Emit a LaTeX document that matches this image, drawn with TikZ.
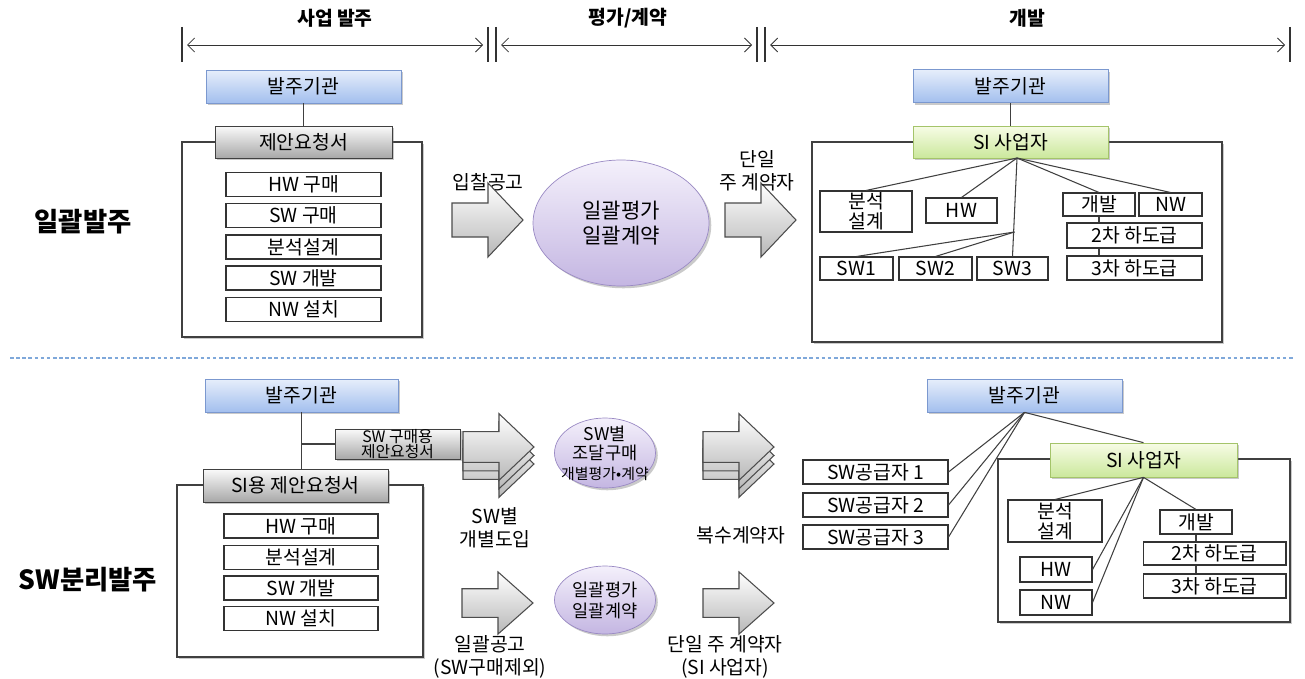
\documentclass[tikz,border=0pt]{standalone}
\usepackage{fontspec}
\setmainfont{Noto Sans CJK KR}
\usetikzlibrary{arrows.meta,shapes.geometric,shadows}

\definecolor{orgtop}{HTML}{E6EEFB}
\definecolor{orgbot}{HTML}{A3BFEE}
\definecolor{orgline}{HTML}{7B98CF}
\definecolor{rfptop}{HTML}{FAFAFA}
\definecolor{rfpbot}{HTML}{A8A8A8}
\definecolor{sitop}{HTML}{F7FCE6}
\definecolor{sibot}{HTML}{CBE89C}
\definecolor{siline}{HTML}{A4C46A}
\definecolor{elltop}{HTML}{F4F0FB}
\definecolor{ellbot}{HTML}{C4B6E2}
\definecolor{ellline}{HTML}{9A8AC4}
\definecolor{sepline}{HTML}{7FA8DA}

\tikzset{
  shad/.style={drop shadow={shadow xshift=1.3pt,shadow yshift=-1.3pt,opacity=.35,fill=black!60}},
  hdr/.style={font=\bfseries\fontsize{11}{13}\selectfont},
  side/.style={font=\bfseries\fontsize{15}{17}\selectfont},
  bar/.style={draw=black!80,line width=.6pt},
  span/.style={draw=black!80,line width=.5pt,{Straight Barb[length=4pt,width=8pt]}-{Straight Barb[length=4pt,width=8pt]}},
  frame/.style={draw=black!75,line width=.8pt,fill=white,shad},
  link/.style={draw=black!75,line width=.6pt},
  orgbox/.style={draw=orgline,top color=orgtop,bottom color=orgbot,minimum width=3.9cm,minimum height=.66cm,inner sep=0pt,font=\fontsize{11}{13}\selectfont,shad},
  rfpbox/.style={draw=black!75,top color=rfptop,bottom color=rfpbot,minimum height=.64cm,inner sep=0pt,font=\fontsize{11}{13}\selectfont,align=center,shad},
  sibox/.style={draw=siline,top color=sitop,bottom color=sibot,minimum height=.64cm,inner sep=0pt,font=\fontsize{11}{13}\selectfont,shad},
  itembox/.style={draw=black!80,fill=white,line width=.6pt,inner sep=0pt,minimum height=.48cm,font=\fontsize{11}{11.5}\selectfont,align=center},
  ellbox/.style={ellipse,draw=ellline,top color=elltop,bottom color=ellbot,inner sep=0pt,shad},
  lbl/.style={font=\fontsize{11}{13}\selectfont,align=center},
  arrowbody/.style={draw=black!70,line width=.6pt,top color=white,bottom color=black!28,line join=miter},
  blkarrow/.pic={
    \draw[arrowbody] (0,-17) -- (36,-17) -- (36,-37) -- (71,0) -- (36,37) -- (36,17) -- (0,17) -- cycle;
  }
}

\begin{document}
\begin{tikzpicture}[x=0.02cm,y=-0.02cm]
\useasboundingbox (0,0) rectangle (1305,679);

% 단계 머리말
\node[hdr] (hdr1) at (335,18) {사업 발주};
\node[hdr] (hdr2) at (628,18) {평가/계약};
\node[hdr] (hdr3) at (1027,18) {개발};
\draw[bar] (182,27) -- (182,62) (488,27) -- (488,62) (496,27) -- (496,62)
  (757,27) -- (757,62) (765,27) -- (765,62) (1290,27) -- (1290,62);
\coordinate (p1) at (187,45); \coordinate (p2) at (483,45);
\coordinate (p3) at (501,45); \coordinate (p4) at (752,45);
\coordinate (p5) at (770,45); \coordinate (p6) at (1285,45);
\draw[span] (p1) -- (p2);
\draw[span] (p3) -- (p4);
\draw[span] (p5) -- (p6);

% 일괄발주
\node[side] (side1) at (83,222) {일괄발주};
\draw[frame] (182,142) rectangle (422,337);
\node[orgbox] (org1) at (303.5,86.5) {발주기관};
\node[rfpbox,minimum width=3.54cm] (rfp1) at (303.5,142) {제안요청서};
\draw[link] (org1) -- (rfp1);
\node[itembox,minimum width=3.1cm] (it11) at (303.5,184.5) {HW 구매};
\node[itembox,minimum width=3.1cm] (it12) at (303.5,215.5) {SW 구매};
\node[itembox,minimum width=3.1cm] (it13) at (303.5,247) {분석설계};
\node[itembox,minimum width=3.1cm] (it14) at (303.5,278) {SW 개발};
\node[itembox,minimum width=3.1cm] (it15) at (303.5,309.5) {NW 설치};

\node[lbl] (bid1) at (488,182) {입찰공고};
\pic at (452,220) {blkarrow};
\node[ellbox,minimum width=3.52cm,minimum height=2.52cm] (ell1) at (621,223) {};
\node[lbl,font=\fontsize{12}{14}\selectfont] (ell1t) at (ell1) {일괄평가\\일괄계약};
\pic at (725,220) {blkarrow};
\node[lbl] (main1) at (757,171) {단일\\주 계약자};

\draw[frame] (812,142) rectangle (1222,342);
\node[orgbox] (org2) at (1010.5,86) {발주기관};
\node[sibox,minimum width=3.9cm] (si1) at (1010.5,142) {SI 사업자};
\draw[link] (org2) -- (si1);
\node[itembox,minimum width=1.84cm,minimum height=.82cm] (ana1) at (866,211.5) {분석\\설계};
\node[itembox,minimum width=1.42cm,minimum height=.5cm] (hw1) at (961.5,210.5) {HW};
\node[itembox,minimum width=1.44cm,minimum height=.46cm] (dev1) at (1099,204.5) {개발};
\node[itembox,minimum width=1.26cm,minimum height=.46cm] (nw1) at (1170.5,204.5) {NW};
\node[itembox,minimum width=2.7cm,minimum height=.5cm] (sub21) at (1134.5,235.5) {2차 하도급};
\node[itembox,minimum width=2.7cm] (sub31) at (1134.5,268) {3차 하도급};
\node[itembox,minimum width=1.46cm,minimum height=.46cm] (sw1) at (856.5,268.5) {SW1};
\node[itembox,minimum width=1.46cm,minimum height=.46cm] (sw2) at (935.5,268.5) {SW2};
\node[itembox,minimum width=1.42cm,minimum height=.46cm] (sw3) at (1012.5,268.5) {SW3};
\coordinate (fan1) at (1017,158);
\coordinate (fork1) at (1014.5,232);
\draw[link] (fan1) -- (ana1.north);
\draw[link] (fan1) -- (hw1.north);
\draw[link] (fan1) -- (sw3.north);
\draw[link] (fan1) -- (dev1.north);
\draw[link] (fan1) -- (nw1.north);
\draw[link] (fork1) -- (sw1.north);
\draw[link] (fork1) -- (sw2.north);
\draw[link] (dev1.south) -- (dev1.south |- sub21.north);
\draw[link] (dev1.south |- sub21.south) -- (dev1.south |- sub31.north);

% 구분선
\draw[sepline,line width=.7pt,dash pattern=on 2pt off 1.5pt] (10,358) -- (1295,358);

% SW분리발주
\node[side] (side2) at (88,580) {SW분리발주};
\draw[frame] (177,485) rectangle (423,657);
\node[orgbox,minimum width=3.86cm] (org3) at (301.5,395.5) {발주기관};
\node[rfpbox,minimum width=2.5cm,minimum height=.56cm,font=\fontsize{9}{9}\selectfont] (rfpsw) at (397.5,444) {SW 구매용\\제안요청서};
\node[rfpbox,minimum width=3.7cm,minimum height=.66cm] (rfp3) at (295.5,485.5) {SI용 제안요청서};
\draw[link] (org3.south) -- (org3.south |- rfp3.north);
\draw[link] (org3.south |- rfpsw.west) -- (rfpsw.west);
\node[itembox,minimum width=3.08cm] (it31) at (301,526) {HW 구매};
\node[itembox,minimum width=3.08cm] (it32) at (301,557.5) {분석설계};
\node[itembox,minimum width=3.08cm] (it33) at (301,588) {SW 개발};
\node[itembox,minimum width=3.08cm] (it34) at (301,618.5) {NW 설치};

\pic[yscale=.9] at (463,464) {blkarrow};
\pic[yscale=.9] at (463,455.5) {blkarrow};
\pic[yscale=.9] at (463,447) {blkarrow};
\node[lbl] (swin) at (495,528) {SW별\\개별도입};
\node[ellbox,minimum width=2.02cm,minimum height=1.4cm] (ell2) at (605,453) {};
\node[lbl,font=\fontsize{10}{11}\selectfont] (ell2t) at (ell2) {SW별\\조달구매\\{\fontsize{8.5}{10}\selectfont 개별평가•계약}};
\pic[yscale=.9] at (703,464) {blkarrow};
\pic[yscale=.9] at (703,455.5) {blkarrow};
\pic[yscale=.9] at (703,447) {blkarrow};
\node[lbl] (multi) at (741,535) {복수계약자};

\pic[yscale=.84] at (462,603) {blkarrow};
\node[lbl] (bulk) at (490,657) {일괄공고\\(SW구매제외)};
\node[ellbox,minimum width=2.02cm,minimum height=1.36cm] (ell3) at (605,600) {};
\node[lbl,font=\fontsize{10}{12}\selectfont] (ell3t) at (ell3) {일괄평가\\일괄계약};
\pic[yscale=.84] at (703,603) {blkarrow};
\node[lbl] (main2) at (725,657) {단일 주 계약자\\(SI 사업자)};

\draw[frame] (998,459) rectangle (1290,622);
\node[orgbox] (org4) at (1024.5,395.5) {발주기관};
\node[itembox,minimum width=2.9cm] (sup1) at (875.5,472) {SW공급자 1};
\node[itembox,minimum width=2.9cm] (sup2) at (875.5,505) {SW공급자 2};
\node[itembox,minimum width=2.9cm] (sup3) at (875.5,537) {SW공급자 3};
\node[sibox,minimum width=3.74cm,minimum height=.68cm] (si2) at (1143.5,460) {SI 사업자};
\draw[link] (org4.south) -- (sup1.east);
\draw[link] (org4.south) -- (sup2.east);
\draw[link] (org4.south) -- (sup3.east);
\draw[link] (org4.south) -- (si2.north);
\node[itembox,minimum width=1.88cm,minimum height=.84cm] (ana2) at (1055,521) {분석\\설계};
\node[itembox,minimum width=1.44cm,minimum height=.5cm] (hw2) at (1056,569.5) {HW};
\node[itembox,minimum width=1.44cm,minimum height=.5cm] (nw2) at (1056,602.5) {NW};
\node[itembox,minimum width=1.44cm] (dev2) at (1196,522) {개발};
\node[itembox,minimum width=2.86cm,minimum height=.46cm] (sub22) at (1214.5,553.5) {2차 하도급};
\node[itembox,minimum width=2.86cm] (sub32) at (1214.5,586) {3차 하도급};
\draw[link] (si2.south) -- (ana2.north);
\draw[link] (si2.south) -- (hw2.east);
\draw[link] (si2.south) -- (nw2.east);
\draw[link] (si2.south) -- (dev2.north);
\draw[link] (dev2.south) -- (dev2.south |- sub22.north);
\draw[link] (dev2.south |- sub22.south) -- (dev2.south |- sub32.north);
\end{tikzpicture}
\end{document}
